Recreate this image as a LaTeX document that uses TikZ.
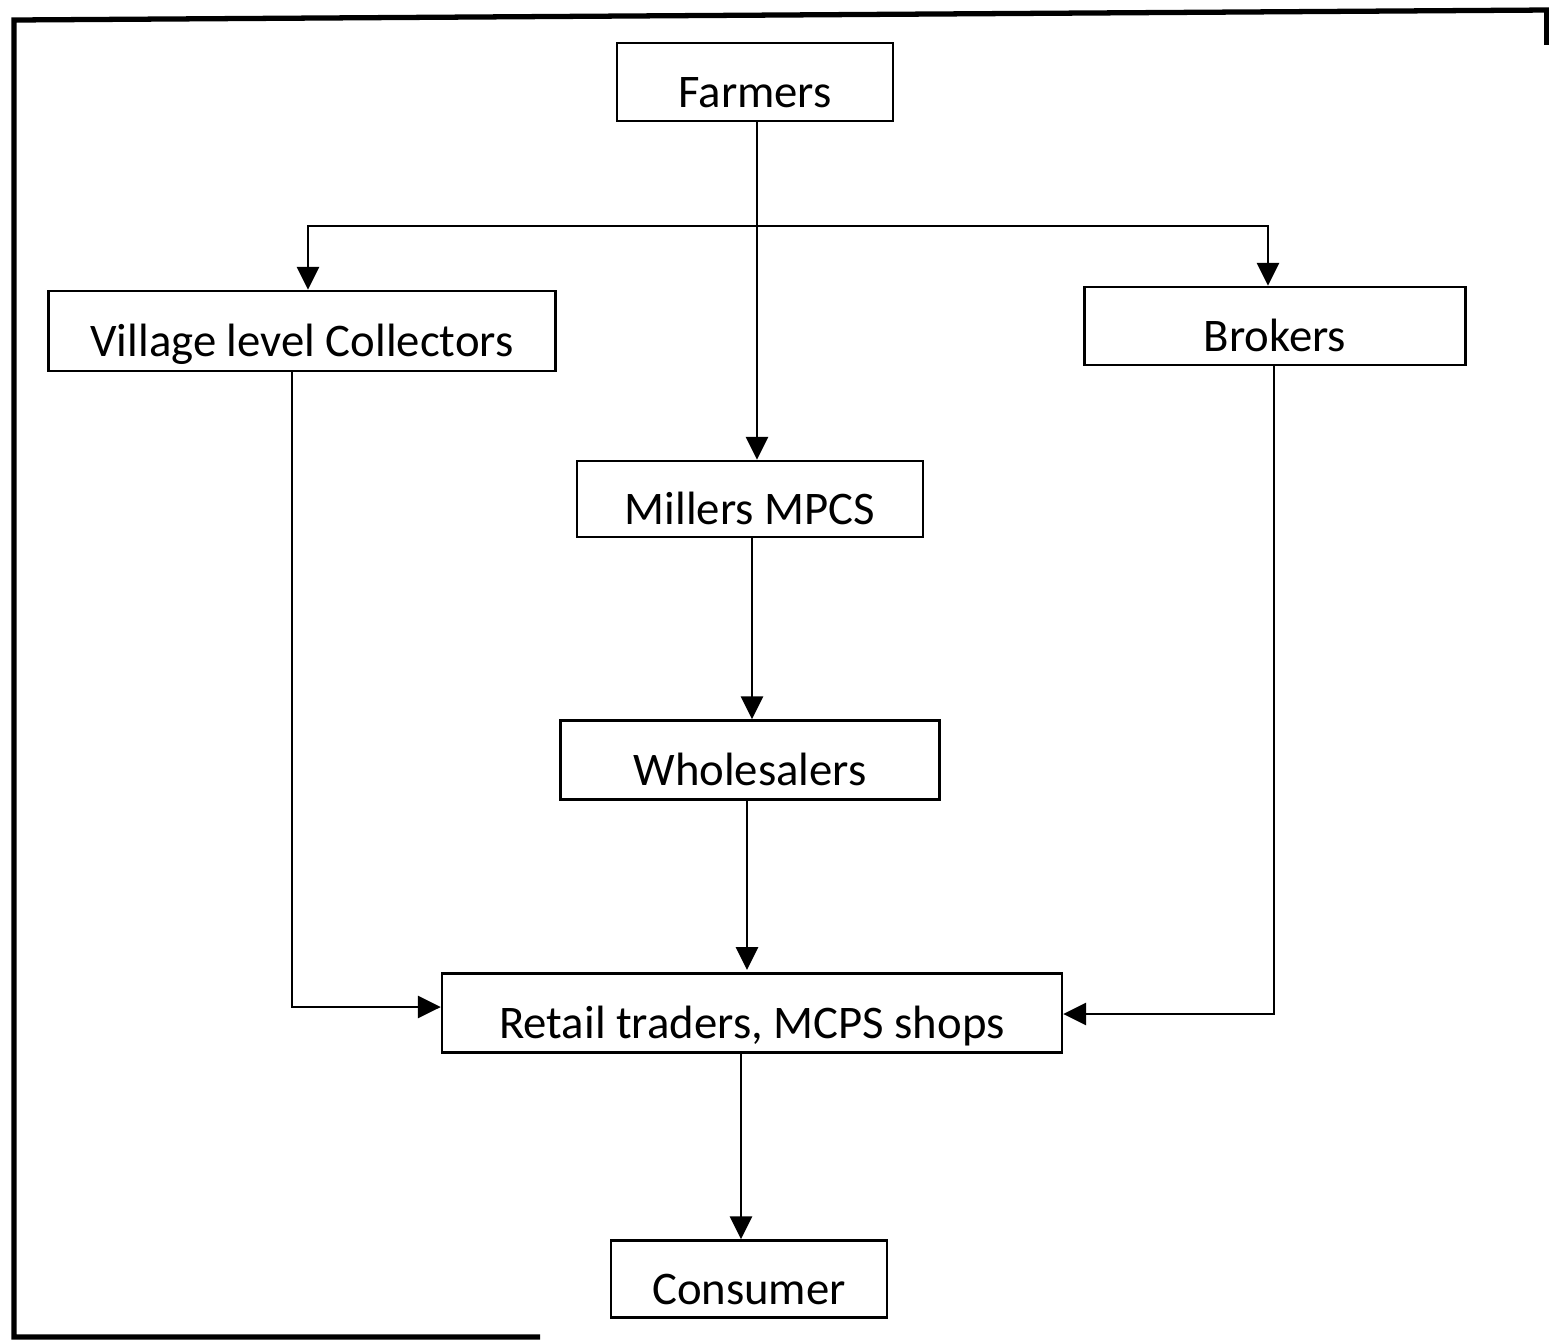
\documentclass[tikz,border=0pt]{standalone}
\usepackage{fontspec}
\setmainfont{Carlito}
\usepackage{tikz}
\usetikzlibrary{arrows.meta}
\tikzstyle{stage}=[rectangle,draw=black,line width=1.4pt,
                   inner sep=0pt,text height=1.0cm,text depth=0pt,
                   font=\fontsize{26.6}{30}\selectfont]
\tikzstyle{flow}=[line width=1.6pt,
                  -{Triangle[length=4.6mm,width=4.4mm]}]
\tikzstyle{frame}=[line width=3pt]

\begin{document}
\begin{tikzpicture}[x=0.02cm,y=-0.02cm]
    \useasboundingbox (0,0) rectangle (1549,1340);
    \draw[frame] (540,1337) -- (14,1337) -- (14,20) -- (1549,10);
    \draw[frame] (1547,12) -- (1547,45);
    \node (farm) at (755, 82) [stage,minimum width=5.52cm,minimum height=1.56cm]{Farmers};
    \node (vlc)  at (302,331) [stage,minimum width=10.14cm,minimum height=1.6cm]{Village level Collectors};
    \node (brk)  at (1275,326) [stage,minimum width=7.62cm,minimum height=1.56cm]{Brokers};
    \node (mill) at (750,499) [stage,minimum width=6.92cm,minimum height=1.52cm]{Millers MPCS};
    \node (whol) at (750,760) [stage,minimum width=7.58cm,minimum height=1.58cm]{Wholesalers};
    \node (ret)  at (752,1013) [stage,minimum width=12.4cm,minimum height=1.58cm]{Retail traders, MCPS shops};
    \node (cons) at (749,1279) [stage,minimum width=5.52cm,minimum height=1.54cm]{Consumer};
    \coordinate (split) at (757,226);
    \draw[flow] (farm.south -| split) -- (mill.north -| split);
    \draw[flow] (split) -| (vlc.north -| 308,0);
    \draw[flow] (split) -| (brk.north -| 1268,0);
    \draw[flow] (vlc.south -| 292,0) |- (ret.west |- 0,1007);
    \draw[flow] (brk.south -| 1274,0) |- (ret.east |- 0,1014);
    \draw[flow] (mill.south -| 752,0) -- (whol.north -| 752,0);
    \draw[flow] (whol.south -| 747,0) -- (747,970);
    \draw[flow] (ret.south -| 741,0) -- (cons.north -| 741,0);
  \end{tikzpicture}
\end{document}
